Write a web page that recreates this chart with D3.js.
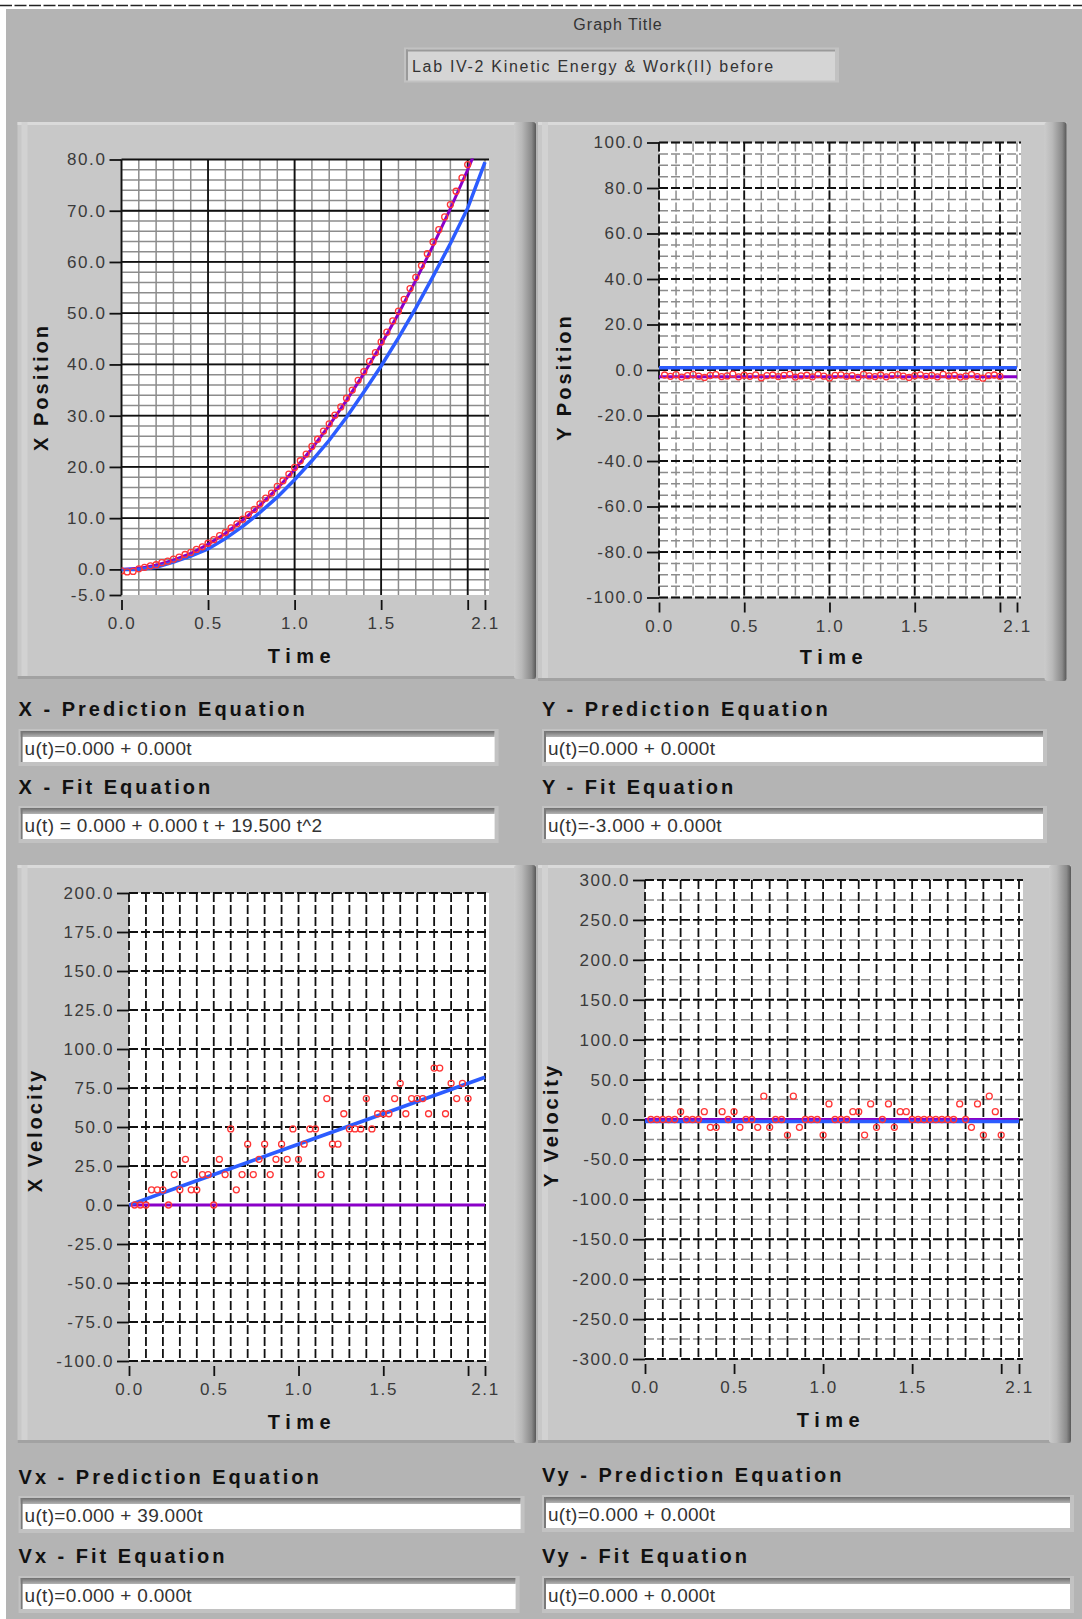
<!DOCTYPE html>
<html>
<head>
<meta charset="utf-8">
<script src="https://cdn.jsdelivr.net/npm/d3@7"></script>
<style>
body { margin: 0; background: #fff; }
text { font-family: "Liberation Sans", Arial, sans-serif; }
</style>
</head>
<body>
<div id="chart"></div>
<script>

/********** data **********/
// frame times (30 frames / s)
var frameTimes = [0, 0.033, 0.067, 0.1, 0.133, 0.167, 0.2, 0.233, 0.267, 0.3, 0.333, 0.367, 0.4, 0.433, 0.467,
  0.5, 0.533, 0.567, 0.6, 0.633, 0.667, 0.7, 0.733, 0.767, 0.8, 0.833, 0.867, 0.9, 0.933, 0.967,
  1.0, 1.033, 1.067, 1.1, 1.133, 1.167, 1.2, 1.233, 1.267, 1.3, 1.333, 1.367, 1.4, 1.433, 1.467,
  1.5, 1.533, 1.567, 1.6, 1.633, 1.667, 1.7, 1.733, 1.767, 1.8, 1.833, 1.867, 1.9, 1.933, 1.967, 2.0];
var velTimes = frameTimes.slice(1);

// X position (red circles)
var xPosData = [-0.3, -0.5, -0.4, 0.1, 0.4, 0.7, 0.9, 1.3, 1.6, 2.0, 2.4, 2.9, 3.3, 3.9, 4.4,
  5.1, 5.8, 6.6, 7.2, 8.1, 8.9, 9.8, 10.7, 11.7, 12.8, 13.9, 14.9, 16.2, 17.3, 18.6,
  19.9, 21.2, 22.5, 24.0, 25.4, 27.0, 28.4, 30.1, 31.7, 33.4, 35.0, 36.9, 38.6, 40.6, 42.3,
  44.4, 46.3, 48.5, 50.4, 52.7, 54.8, 57.0, 59.3, 61.6, 63.9, 66.3, 68.8, 71.2, 73.8, 76.4, 79.0];
// X position fit (purple)
var xFitTimes = [0, 0.1, 0.2, 0.3, 0.4, 0.5, 0.6, 0.7, 0.8, 0.9, 1.0, 1.1, 1.2, 1.3, 1.4, 1.5, 1.6, 1.7, 1.8, 1.9, 2.0, 2.03];
var xPosFit = [0, 0.2, 0.8, 1.8, 3.1, 4.9, 7.0, 9.6, 12.5, 15.8, 19.5, 23.6, 28.1, 33.0, 38.2, 43.9, 49.9, 56.4, 63.2, 70.4, 78.0, 80.4];
// X position model (blue)
var modelTimes = [0, 0.1, 0.2, 0.3, 0.4, 0.5, 0.6, 0.7, 0.8, 0.9, 1.0, 1.1, 1.2, 1.3, 1.4, 1.5, 1.6, 1.7, 1.8, 1.9, 2.0, 2.1];
var xPosModel = [0, 0.0, 0.4, 1.4, 2.6, 4.0, 6.0, 8.4, 11.1, 14.1, 17.5, 21.2, 25.2, 29.7, 34.6, 39.7, 45.2, 51.0, 57.2, 63.6, 70.5, 79.5];

// Y position
var yPosData = [-2.2, -2.8, -2.0, -3.1, -2.5, -1.9, -2.7, -3.3, -2.4, -2.0, -2.9, -2.6, -1.8, -3.0, -2.3,
  -2.8, -2.1, -3.4, -2.5, -2.2, -2.9, -2.4, -1.9, -3.1, -2.6, -2.3, -3.0, -2.0, -2.7, -3.5,
  -2.4, -2.1, -2.8, -2.5, -3.2, -1.9, -2.6, -2.9, -2.2, -3.0, -2.4, -2.0, -2.7, -3.3, -2.5,
  -2.1, -2.8, -2.4, -3.0, -1.9, -2.6, -2.3, -3.1, -2.7, -2.0, -2.9, -3.6, -2.5, -2.2, -2.8];
var lineTimes = [0, 2.1];
var yPosModel = [1.0, 1.0];
var yPosFit = [-3.0, -3.0];

// X velocity
var xVelData = [0, 0, 0, 9.75, 9.75, 9.75, 0, 19.5, 9.75, 29.25, 9.75, 9.75, 19.5, 19.5, 0,
  29.25, 19.5, 48.75, 9.75, 19.5, 39, 19.5, 29.25, 39, 19.5, 29.25, 39, 29.25, 48.75, 29.25,
  39, 48.75, 48.75, 19.5, 68.25, 39, 39, 58.5, 48.75, 48.75, 48.75, 68.25, 48.75, 58.5, 58.5,
  58.5, 68.25, 78, 58.5, 68.25, 68.25, 68.25, 58.5, 87.75, 87.75, 58.5, 78, 68.25, 78, 68.25];
var xVelModelTimes = [0, 0.3, 0.6, 0.9, 1.2, 1.5, 1.8, 2.1];
var xVelModel = [0, 11.7, 23.4, 35.1, 46.8, 58.5, 70.2, 81.9];
var xVelFit = [0, 0];

// Y velocity
var yVelData = [0, 0, 0, 0, 0, 9.75, 0, 0, 0, 9.75, -9.75, -9.75, 9.75, 0, 9.75,
  -9.75, 0, 0, -9.75, 29.25, -9.75, 0, 0, -19.5, 29.25, -9.75, 0, 0, 0, -19.5,
  19.5, 0, 0, 0, 9.75, 9.75, -19.5, 19.5, -9.75, 0, 19.5, -9.75, 9.75, 9.75, 0,
  0, 0, 0, 0, 0, 0, 0, 19.5, 0, -9.75, 19.5, -19.5, 29.25, 9.75, -19.5];
var yVelModel = [-2.5, -2.5];
var yVelFit = [0, 0];

// tick labels
var timeTicks = [0, 0.5, 1.0, 1.5, 2.0, 2.1];
var xPosTicks = [-5, 0, 10, 20, 30, 40, 50, 60, 70, 80];
var yPosTicks = [-100, -80, -60, -40, -20, 0, 20, 40, 60, 80, 100];
var xVelTicks = [-100, -75, -50, -25, 0, 25, 50, 75, 100, 125, 150, 175, 200];
var yVelTicks = [-300, -250, -200, -150, -100, -50, 0, 50, 100, 150, 200, 250, 300];

var equations = [
  {label: "X - Prediction Equation", text: "u(t)=0.000 + 0.000t", x: 18.6, y: 729, w: 480, ly: 716},
  {label: "X - Fit Equation", text: "u(t) = 0.000 + 0.000 t + 19.500 t^2", x: 18.6, y: 806, w: 480, ly: 794},
  {label: "Y - Prediction Equation", text: "u(t)=0.000 + 0.000t", x: 542, y: 729, w: 505, ly: 716},
  {label: "Y - Fit Equation", text: "u(t)=-3.000 + 0.000t", x: 542, y: 806, w: 505, ly: 794},
  {label: "Vx - Prediction Equation", text: "u(t)=0.000 + 39.000t", x: 18.6, y: 1496, w: 506, ly: 1484},
  {label: "Vx - Fit Equation", text: "u(t)=0.000 + 0.000t", x: 18.6, y: 1576, w: 501, ly: 1563},
  {label: "Vy - Prediction Equation", text: "u(t)=0.000 + 0.000t", x: 542, y: 1495, w: 532, ly: 1482},
  {label: "Vy - Fit Equation", text: "u(t)=0.000 + 0.000t", x: 542, y: 1576, w: 532, ly: 1563}
];

var RED = "#ff3535", BLUE = "#2c5cff", PURPLE = "#8a00c8";

/********** page **********/
var W = 1082, H = 1619;
var svg = d3.select("#chart").append("svg").attr("width", W).attr("height", H);
var defs = svg.append("defs");

var bev = defs.append("linearGradient").attr("id", "bevelRight")
  .attr("x1", 0).attr("x2", 1).attr("y1", 0).attr("y2", 0);
bev.append("stop").attr("offset", "0").attr("stop-color", "#cbcbcb");
bev.append("stop").attr("offset", "0.35").attr("stop-color", "#b9b9b9");
bev.append("stop").attr("offset", "0.8").attr("stop-color", "#8a8a8a");
bev.append("stop").attr("offset", "1").attr("stop-color", "#585858");

var inset = defs.append("linearGradient").attr("id", "insetTop")
  .attr("x1", 0).attr("x2", 0).attr("y1", 0).attr("y2", 1);
inset.append("stop").attr("offset", "0").attr("stop-color", "#6e6e6e");
inset.append("stop").attr("offset", "1").attr("stop-color", "#b4b4b4");

// background
svg.append("rect").attr("x", 6).attr("y", 9).attr("width", W - 6).attr("height", H - 9).attr("fill", "#b4b4b4");
svg.append("line").attr("x1", 0).attr("x2", W).attr("y1", 5.5).attr("y2", 5.5)
  .attr("stroke", "#222").attr("stroke-width", 1.5).attr("stroke-dasharray", "12,2.5");

// graph title
svg.append("text").attr("x", 618).attr("y", 30).attr("text-anchor", "middle")
  .attr("font-size", 16).attr("letter-spacing", 1).attr("fill", "#333").text("Graph Title");
svg.append("rect").attr("x", 404).attr("y", 47.5).attr("width", 435).attr("height", 35).attr("fill", "#c2c2c2");
svg.append("rect").attr("x", 406).attr("y", 49.5).attr("width", 429).attr("height", 31).attr("fill", "#d5d5d5");
svg.append("rect").attr("x", 406).attr("y", 49.5).attr("width", 429).attr("height", 2).attr("fill", "#9a9a9a");
svg.append("rect").attr("x", 406).attr("y", 49.5).attr("width", 2).attr("height", 31).attr("fill", "#9a9a9a");
svg.append("text").attr("x", 412).attr("y", 71.5).attr("font-size", 16).attr("letter-spacing", 1.7)
  .attr("fill", "#333").text("Lab IV-2 Kinetic Energy & Work(II) before");


function draw_panel(p) {
  var g = svg.append("g");
  g.append("rect").attr("x", p.x).attr("y", p.y).attr("width", p.w).attr("height", p.h).attr("fill", "#c8c8c8");
  g.append("rect").attr("x", p.x).attr("y", p.y).attr("width", p.w - 20).attr("height", 3).attr("fill", "#dadada");
  g.append("rect").attr("x", p.x + 4).attr("y", p.y).attr("width", 6).attr("height", p.h).attr("fill", "#d2d2d2");
  g.append("rect").attr("x", p.x).attr("y", p.y + p.h - 3).attr("width", p.w).attr("height", 3).attr("fill", "#a2a2a2");
  g.append("rect").attr("x", p.x + p.w - 22).attr("y", p.y).attr("width", 22).attr("height", p.h)
    .attr("rx", 3).attr("fill", "url(#bevelRight)");
}


function draw_graph(c, idx) {
  draw_panel(c.panel);

  var x = d3.scaleLinear().domain([0, 2.1]).range([c.left, c.right]);
  var y = d3.scaleLinear().domain(c.yDomain).range([c.bottom, c.top]);
  var g = svg.append("g");

  g.append("rect").attr("x", c.left).attr("y", c.top)
    .attr("width", c.right - c.left + 4).attr("height", c.bottom - c.top).attr("fill", "#fff");

  // grid: minor first, then major
  function vlines(vals, color, width) {
    g.selectAll(null).data(vals).enter().append("line")
      .attr("x1", d => x(d)).attr("x2", d => x(d))
      .attr("y1", c.top).attr("y2", c.bottom)
      .attr("stroke", color).attr("stroke-width", width)
      .attr("stroke-dasharray", c.dash ? "9,3" : null);
  }
  function hlines(vals, color, width) {
    g.selectAll(null).data(vals).enter().append("line")
      .attr("x1", c.left).attr("x2", c.right + 4)
      .attr("y1", d => y(d)).attr("y2", d => y(d))
      .attr("stroke", color).attr("stroke-width", width)
      .attr("stroke-dasharray", c.dash ? "9,3" : null);
  }
  vlines(c.xMinor, "#8c8c8c", 1.5);
  hlines(c.yMinor, "#8c8c8c", 1.5);
  vlines(c.xMajor, "#111", 1.8);
  hlines(c.yMajor, "#111", 1.8);

  // axes
  var yAxis = g.append("g").attr("transform", "translate(" + c.left + ",0)")
    .call(d3.axisLeft(y).tickValues(c.yTicks).tickSize(12).tickPadding(3).tickFormat(d => d.toFixed(1)));
  var xAxis = g.append("g").attr("transform", "translate(0," + (c.bottom + 5) + ")")
    .call(d3.axisBottom(x).tickValues(timeTicks).tickSize(10).tickPadding(7)
      .tickFormat(d => d == 2 ? "" : d.toFixed(1)));
  [xAxis, yAxis].forEach(function (a) {
    a.select(".domain").remove();
    a.selectAll("line").attr("stroke", "#111").attr("stroke-width", 1.8);
    a.selectAll("text").attr("font-family", "Liberation Sans, Arial, sans-serif")
      .attr("font-size", 17).attr("letter-spacing", 1.6).attr("fill", "#3a3a3a");
  });

  // titles
  g.append("text").attr("x", c.timeX).attr("y", c.timeY).attr("text-anchor", "middle")
    .attr("font-size", 20).attr("font-weight", "bold").attr("letter-spacing", 5.5).attr("fill", "#111").text("Time");
  g.append("text").attr("transform", "translate(" + c.titleX + "," + c.titleY + ") rotate(-90)")
    .attr("text-anchor", "middle").attr("font-size", 20).attr("font-weight", "bold")
    .attr("letter-spacing", 3).attr("fill", "#111").text(c.title);

  // series
  var clipId = "clip" + idx;
  defs.append("clipPath").attr("id", clipId).append("rect")
    .attr("x", c.left).attr("y", c.top - 1).attr("width", c.right - c.left + 4).attr("height", c.bottom - c.top + 2);
  var plot = g.append("g").attr("clip-path", "url(#" + clipId + ")");
  var line = d3.line().x(d => x(d[0])).y(d => y(d[1]));

  plot.append("path").datum(d3.zip(c.fitT, c.fit)).attr("d", line)
    .attr("fill", "none").attr("stroke", PURPLE).attr("stroke-width", 3);
  plot.append("path").datum(d3.zip(c.modelT, c.model)).attr("d", line)
    .attr("fill", "none").attr("stroke", BLUE).attr("stroke-width", 3.5);
  plot.selectAll(null).data(d3.zip(c.dataT, c.data)).enter().append("circle")
    .attr("cx", d => x(d[0])).attr("cy", d => y(d[1])).attr("r", 3)
    .attr("fill", "none").attr("stroke", RED).attr("stroke-width", 1.3);
}

var tenths = d3.range(0, 22).map(i => i / 10);
var halves = [0, 0.5, 1.0, 1.5, 2.0];

var graphs = [
  { panel: {x: 17.5, y: 122, w: 518.5, h: 557}, left: 121.5, right: 485, top: 159.5, bottom: 595,
    yDomain: [-5, 80], yTicks: xPosTicks, dash: false,
    xMinor: tenths, xMajor: halves,
    yMinor: d3.range(-2, 40).map(i => i * 2), yMajor: d3.range(0, 9).map(i => i * 10),
    title: "X Position", titleX: 48, titleY: 387, timeX: 302, timeY: 663,
    dataT: frameTimes, data: xPosData, fitT: xFitTimes, fit: xPosFit, modelT: modelTimes, model: xPosModel },
  { panel: {x: 538, y: 122, w: 528.5, h: 559}, left: 659, right: 1017, top: 142.5, bottom: 597.5,
    yDomain: [-100, 100], yTicks: yPosTicks, dash: true,
    xMinor: tenths, xMajor: halves,
    yMinor: d3.range(-20, 21).map(i => i * 5), yMajor: d3.range(-5, 6).map(i => i * 20),
    title: "Y Position", titleX: 571, titleY: 377, timeX: 834, timeY: 664,
    dataT: velTimes, data: yPosData, fitT: lineTimes, fit: yPosFit, modelT: lineTimes, model: yPosModel },
  { panel: {x: 17.5, y: 865, w: 518.5, h: 578}, left: 129, right: 485, top: 893, bottom: 1361,
    yDomain: [-100, 200], yTicks: xVelTicks, dash: true,
    xMinor: [], xMajor: tenths,
    yMinor: [], yMajor: xVelTicks,
    title: "X Velocity", titleX: 42, titleY: 1130, timeX: 302, timeY: 1429,
    dataT: velTimes, data: xVelData, fitT: lineTimes, fit: xVelFit, modelT: xVelModelTimes, model: xVelModel },
  { panel: {x: 538, y: 865, w: 533, h: 578}, left: 645, right: 1019, top: 880, bottom: 1359,
    yDomain: [-300, 300], yTicks: yVelTicks, dash: true,
    xMinor: [], xMajor: tenths,
    yMinor: d3.range(-11, 12, 2).map(i => i * 25), yMajor: yVelTicks,
    title: "Y Velocity", titleX: 558, titleY: 1125, timeX: 831, timeY: 1427,
    dataT: velTimes, data: yVelData, fitT: lineTimes, fit: yVelFit, modelT: lineTimes, model: yVelModel }
];

graphs.forEach(function (c, i) { draw_graph(c, i); });


/********** equation boxes **********/
equations.forEach(function (e) {
  svg.append("text").attr("x", e.x).attr("y", e.ly).attr("font-size", 20).attr("font-weight", "bold")
    .attr("letter-spacing", 3).attr("fill", "#111").text(e.label);
  var h = 37;
  svg.append("rect").attr("x", e.x).attr("y", e.y).attr("width", e.w).attr("height", h).attr("fill", "#c2c2c2");
  svg.append("rect").attr("x", e.x + 2).attr("y", e.y + 2).attr("width", e.w - 6).attr("height", h - 6).attr("fill", "#fff");
  svg.append("rect").attr("x", e.x + 2).attr("y", e.y + 2).attr("width", e.w - 6).attr("height", 6).attr("fill", "url(#insetTop)");
  svg.append("rect").attr("x", e.x + 2).attr("y", e.y + 2).attr("width", 2).attr("height", h - 6).attr("fill", "#7a7a7a");
  svg.append("text").attr("x", e.x + 6).attr("y", e.y + 26).attr("font-size", 19).attr("letter-spacing", 0.3)
    .attr("fill", "#333").text(e.text);
});

</script>
</body>
</html>
